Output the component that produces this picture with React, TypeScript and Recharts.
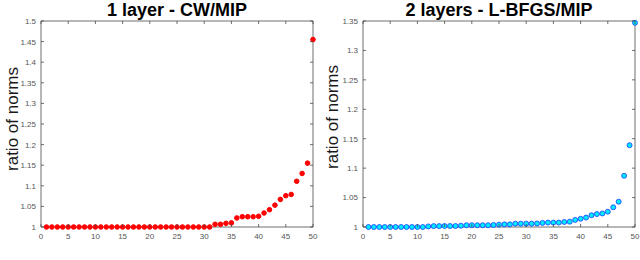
import React from 'react';
import { ScatterChart, Scatter, XAxis, YAxis } from 'recharts';

const xIndex: number[] = Array.from({ length: 50 }, (_, i) => i + 1);

const cwMipRatios: number[] = [
  1, 1, 1, 1, 1, 1, 1, 1, 1, 1,
  1, 1, 1, 1, 1, 1, 1, 1, 1, 1,
  1, 1, 1, 1, 1, 1, 1, 1, 1, 1,
  1, 1.0066, 1.0066, 1.009, 1.01, 1.022, 1.025, 1.025, 1.025, 1.026,
  1.034, 1.042, 1.053, 1.067, 1.076, 1.079, 1.111, 1.13, 1.155, 1.455,
];

const lbfgsMipRatios: number[] = [
  1, 1, 1, 1, 1, 1, 1, 1, 1, 1,
  1, 1.001, 1.0015, 1.0015, 1.0017, 1.0017, 1.0017, 1.0022, 1.003, 1.003,
  1.003, 1.003, 1.003, 1.0035, 1.004, 1.0045, 1.0045, 1.0057, 1.0057, 1.0057,
  1.0057, 1.006, 1.007, 1.0075, 1.0075, 1.0075, 1.0085, 1.009, 1.012, 1.014,
  1.016, 1.02, 1.022, 1.023, 1.026, 1.0335, 1.043, 1.087, 1.139, 1.347,
];

const xTicks: number[] = [0, 5, 10, 15, 20, 25, 30, 35, 40, 45, 50];
const yTicksLeft: number[] = [1, 1.05, 1.1, 1.15, 1.2, 1.25, 1.3, 1.35, 1.4, 1.45, 1.5];
const yTicksRight: number[] = [1, 1.05, 1.1, 1.15, 1.2, 1.25, 1.3, 1.35];

const titles = ['1 layer - CW/MIP', '2 layers - L-BFGS/MIP'];
const yLabel = 'ratio of norms';

const FONT = '"Liberation Sans", Arial, Helvetica, sans-serif';
const AXIS_COLOR = '#4a4a4a';
const TICK_TEXT = '#555';
const TL = 3;

const BottomTick = (p: any) => (
  <g>
    <line x1={p.x} x2={p.x} y1={p.y} y2={p.y - TL} stroke={AXIS_COLOR} strokeWidth={0.8} />
    <text x={p.x} y={p.y + 11.5} textAnchor="middle" fontSize={8} fill={TICK_TEXT} fontFamily={FONT}>
      {p.payload.value}
    </text>
  </g>
);
const TopTick = (p: any) => (
  <line x1={p.x} x2={p.x} y1={p.y} y2={p.y + TL} stroke={AXIS_COLOR} strokeWidth={0.8} />
);
const LeftTick = (p: any) => (
  <g>
    <line x1={p.x} x2={p.x + TL} y1={p.y} y2={p.y} stroke={AXIS_COLOR} strokeWidth={0.8} />
    <text x={p.x - 5} y={p.y + 2.9} textAnchor="end" fontSize={8} fill={TICK_TEXT} fontFamily={FONT}>
      {p.payload.value}
    </text>
  </g>
);
const RightTick = (p: any) => (
  <line x1={p.x} x2={p.x - TL} y1={p.y} y2={p.y} stroke={AXIS_COLOR} strokeWidth={0.8} />
);

type PanelProps = {
  values: number[];
  yTicks: number[];
  title: string;
  marginLeft: number;
  marginRight: number;
  fill: string;
  stroke: string;
  strokeWidth: number;
  r: number;
  labelY: number;
};

const Panel = ({ values, yTicks, title, marginLeft, marginRight, fill, stroke, strokeWidth, r, labelY }: PanelProps) => {
  const data = xIndex.map((x, i) => ({ x, y: values[i] }));
  const yDomain = [yTicks[0], yTicks[yTicks.length - 1]];
  return (
    <div style={{ position: 'relative', width: 320, height: 260 }}>
      <ScatterChart
        width={320}
        height={260}
        margin={{ top: 20, right: marginRight, bottom: 13, left: marginLeft }}
      >
        <XAxis
          xAxisId="b"
          dataKey="x"
          type="number"
          domain={[0, 50]}
          ticks={xTicks}
          height={20}
          tickSize={0}
          tickMargin={0}
          tickLine={false}
          axisLine={{ stroke: AXIS_COLOR, strokeWidth: 0.8 }}
          tick={BottomTick}
          interval={0}
        />
        <XAxis
          xAxisId="t"
          orientation="top"
          dataKey="x"
          type="number"
          domain={[0, 50]}
          ticks={xTicks}
          height={1}
          tickSize={0}
          tickMargin={0}
          tickLine={false}
          axisLine={{ stroke: AXIS_COLOR, strokeWidth: 0.8 }}
          tick={TopTick}
          interval={0}
        />
        <YAxis
          yAxisId="l"
          dataKey="y"
          type="number"
          domain={yDomain}
          ticks={yTicks}
          width={30}
          tickSize={0}
          tickMargin={0}
          tickLine={false}
          axisLine={{ stroke: AXIS_COLOR, strokeWidth: 0.8 }}
          tick={LeftTick}
          interval={0}
        />
        <YAxis
          yAxisId="r"
          orientation="right"
          dataKey="y"
          type="number"
          domain={yDomain}
          ticks={yTicks}
          width={1}
          tickSize={0}
          tickMargin={0}
          tickLine={false}
          axisLine={{ stroke: AXIS_COLOR, strokeWidth: 0.8 }}
          tick={RightTick}
          interval={0}
        />
        <Scatter
          xAxisId="b"
          yAxisId="l"
          data={data}
          isAnimationActive={false}
          shape={(p: any) => (
            <circle cx={p.cx} cy={p.cy} r={r} fill={fill} stroke={stroke} strokeWidth={strokeWidth} />
          )}
        />
        <Scatter
          xAxisId="t"
          yAxisId="r"
          data={data}
          isAnimationActive={false}
          shape={() => <g />}
        />
      </ScatterChart>
      <div
        style={{
          position: 'absolute',
          left: marginLeft + 30,
          width: 320 - marginLeft - 30 - marginRight - 1,
          top: 0,
          textAlign: 'center',
          fontFamily: FONT,
          fontWeight: 'bold',
          fontSize: 18,
          lineHeight: '20px',
          color: '#000',
          whiteSpace: 'nowrap',
        }}
      >
        {title}
      </div>
      <svg
        width={24}
        height={260}
        style={{ position: 'absolute', left: 0, top: 0, overflow: 'visible' }}
      >
        <text
          transform={`translate(18,${labelY}) rotate(-90)`}
          textAnchor="middle"
          fontSize={17}
          fontFamily={FONT}
          fill="#1a1a1a"
        >
          {yLabel}
        </text>
      </svg>
    </div>
  );
};

export default function App() {
  return (
    <div
      style={{
        position: 'absolute',
        left: 0,
        top: 0,
        width: 640,
        height: 260,
        background: '#fff',
        display: 'flex',
        overflow: 'hidden',
      }}
    >
      <Panel
        values={cwMipRatios}
        yTicks={yTicksLeft}
        title={titles[0]}
        marginLeft={11}
        marginRight={6}
        fill="#ff0000"
        stroke="#ff0000"
        strokeWidth={1}
        r={2.3}
        labelY={119}
      />
      <Panel
        values={lbfgsMipRatios}
        yTicks={yTicksRight}
        title={titles[1]}
        marginLeft={13}
        marginRight={4}
        fill="#00eaff"
        stroke="#1a3cff"
        strokeWidth={0.8}
        r={2.5}
        labelY={117}
      />
    </div>
  );
}
